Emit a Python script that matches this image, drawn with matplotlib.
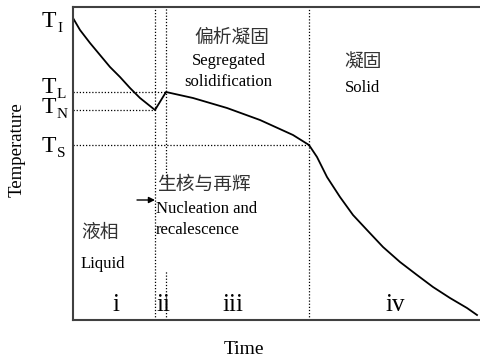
import matplotlib
matplotlib.use('Agg')
import matplotlib.pyplot as plt

plt.rcParams['font.family'] = ['Liberation Serif', 'Noto Sans CJK SC']

# curve (time / temperature, arbitrary units)
time_liquid = [0, 7, 17, 27, 37, 47, 57, 67, 77, 82]
temp_liquid = [302, 290, 277, 265, 253, 243, 232, 222, 214, 210]
time_recal = [82, 93]
temp_recal = [210, 228]
time_seg = [93, 120, 154, 187, 220, 236]
temp_seg = [228, 222, 212, 200, 185, 175]
time_solid = [236, 244, 254, 267, 280, 294, 310, 327, 344, 360, 377, 394, 404]
temp_solid = [175, 163, 143, 123, 105, 90, 73, 58, 45, 33, 22, 12, 5]

# characteristic temperatures and times
T_I, T_L, T_N, T_S = 302, 228, 210, 175
t_nuc, t_rec, t_sol = 82, 93, 236

temp_names = ['I', 'L', 'N', 'S']
temp_levels = [T_I, T_L, T_N, T_S]
stage_names = ['i', 'ii', 'iii', 'iv']
stage_pos = [43, 90, 160, 322]


def px(x, y):
    # pixel position in the 480x360 picture -> data units
    return x - 73, 320 - y


fig = plt.figure(figsize=(4.8, 3.6), dpi=100)
ax = fig.add_axes([73 / 480, 40 / 360, 407 / 480, 313 / 360])
ax.set_xlim(0, 407)
ax.set_ylim(0, 313)

t_all = time_liquid + time_recal[1:] + time_seg[1:] + time_solid[1:]
T_all = temp_liquid + temp_recal[1:] + temp_seg[1:] + temp_solid[1:]
ax.plot(t_all, T_all, color='k', lw=1.3, solid_joinstyle='round')

dot = dict(color='k', lw=0.9, linestyle=(0, (1, 1.5)))
ax.plot([0, t_rec], [T_L, T_L], **dot)
ax.plot([0, t_nuc], [T_N, T_N], **dot)
ax.plot([0, t_sol], [T_S, T_S], **dot)
ax.plot([t_nuc, t_nuc], [0, 313], **dot)
ax.plot([t_sol, t_sol], [0, 313], **dot)
ax.plot([t_rec, t_rec], [px(0, 182)[1], 313], **dot)
ax.plot([t_rec, t_rec], [0, px(0, 270)[1]], **dot)

# temperature labels on the left
for name, lev, base in zip(temp_names, temp_levels, [27, 93, 113, 152]):
    x, y = px(42, base)
    ax.text(x, y, 'T', fontsize=17, ha='left', va='baseline')
    x2, y2 = px(57, base + 5)
    ax.text(x2, y2, name, fontsize=11, ha='left', va='baseline')

for name, pos in zip(stage_names, stage_pos):
    x, y = px(0, 311)
    ax.text(pos, y, name, fontsize=18, ha='center', va='baseline')

cn = '#333333'
ax.text(*px(232, 38), '偏析凝固', fontsize=13.5, ha='center', va='center', color=cn)
ax.text(*px(229, 65), 'Segregated', fontsize=12, ha='center', va='baseline')
ax.text(*px(228, 86), 'solidification', fontsize=12, ha='center', va='baseline')
ax.text(*px(344, 63), '凝固', fontsize=13.5, ha='left', va='center', color=cn)
ax.text(*px(345, 92), 'Solid', fontsize=12, ha='left', va='baseline')
ax.text(*px(81, 233), '液相', fontsize=13.5, ha='left', va='center', color=cn)
ax.text(*px(81, 268), 'Liquid', fontsize=12, ha='left', va='baseline')
ax.text(*px(157, 185), '生核与再辉', fontsize=13.5, ha='left', va='center', color=cn)
ax.text(*px(156, 213), 'Nucleation and', fontsize=12, ha='left', va='baseline')
ax.text(*px(156, 234), 'recalescence', fontsize=12, ha='left', va='baseline')

ax.annotate('', xy=px(155, 200), xytext=px(137, 200),
            arrowprops=dict(arrowstyle='-|>', color='k', lw=1, mutation_scale=9,
                            shrinkA=0, shrinkB=0))

ax.text(*px(17, 150), 'Temperature', fontsize=13.5, rotation=90, ha='center', va='center')
ax.text(*px(244, 350), 'Time', fontsize=14, ha='center', va='center')

ax.set_xticks([])
ax.set_yticks([])
ax.spines['right'].set_visible(False)
for s in ['left', 'top', 'bottom']:
    ax.spines[s].set_color('#404040')
    ax.spines[s].set_linewidth(1.5)

fig.savefig('out.png', dpi=100)
